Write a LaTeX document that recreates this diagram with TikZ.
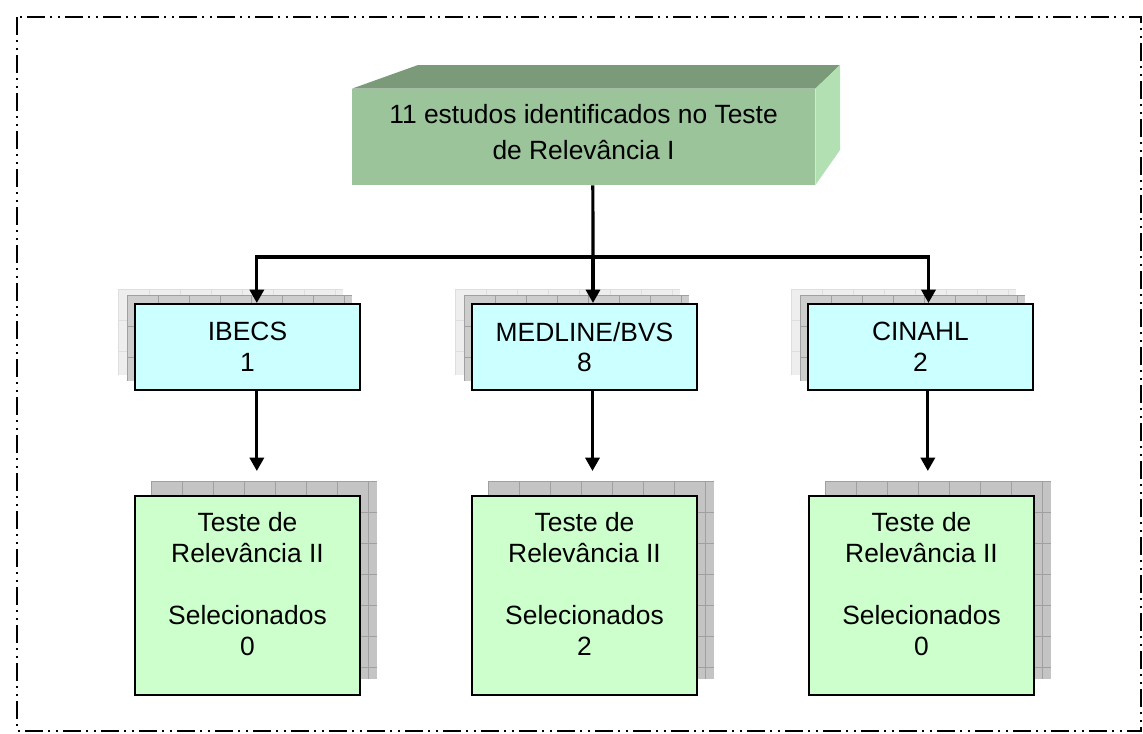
\documentclass[tikz,border=0pt]{standalone}
\usepackage{fontspec}
\setmainfont{Liberation Sans}
\usepackage{xcolor}
\definecolor{frontgreen}{RGB}{155,196,155}
\definecolor{topgreen}{RGB}{122,154,122}
\definecolor{sidegreen}{RGB}{179,224,179}
\definecolor{basecyan}{RGB}{204,255,255}
\definecolor{testgreen}{RGB}{204,255,204}
\definecolor{shadowlight}{RGB}{238,238,238}
\definecolor{linelight}{RGB}{222,222,222}
\definecolor{shadowdark}{RGB}{196,196,196}
\definecolor{linedark}{RGB}{160,160,160}
\usetikzlibrary{arrows.meta}
\usetikzlibrary{positioning}

\begin{document}
\begin{tikzpicture}[x=0.75pt,y=-0.75pt, every node/.style={font=\fontsize{19.8}{23}\selectfont, align=center, inner sep=0pt},
  frame/.style={line width=1.2pt, dash pattern=on 13.5pt off 4pt on 1.5pt off 4pt on 1.5pt off 4pt},
  link/.style={line width=2.4pt},
  arrow/.style={link, -{Triangle[length=10pt,width=10.5pt]}},
  basebox/.style={draw, line width=1.5pt, fill=basecyan, minimum width=168.75pt, minimum height=64.5pt},
  testbox/.style={draw, line width=1.5pt, fill=testgreen, minimum width=168.75pt, minimum height=149.25pt, text depth=17.5pt},
  gridlight/.style={draw=linelight, line width=0.5pt, step=23.25pt},
  griddark/.style={draw=linedark, line width=0.5pt, step=23.25pt}]

\useasboundingbox (0,0) rectangle (1143,733);

% Frame
\draw[frame] (17,17) rectangle (1141,731);

% Top block
  \node[fill=frontgreen, minimum width=347.25pt, minimum height=72pt, font=\fontsize{19.8}{27}\selectfont, text depth=7pt] (start) at (583.5,137) {11 estudos identificados no Teste\\de Relevância I};
  \fill[topgreen] (start.north west) -- (418,65) -- (840,65) -- (start.north east) -- cycle;
  \fill[sidegreen] (start.north east) -- (840,65) -- (840,150) -- (start.south east) -- cycle;

% IBECS
  \fill[shadowlight] (118,289) rectangle (343,375);
  \draw[gridlight, shift={(118,289)}] (0,0) grid (225,86);
  \fill[shadowdark!85] (127,295) rectangle (352,381);
  \draw[griddark, shift={(127,295)}] (0,0) grid (225,86);
  \node[basebox] (ibecs) at (247.5,347) {IBECS\\1};

% MEDLINE/BVS
  \fill[shadowlight] (455,289) rectangle (680,375);
  \draw[gridlight, shift={(455,289)}] (0,0) grid (225,86);
  \fill[shadowdark!85] (464,295) rectangle (689,381);
  \draw[griddark, shift={(464,295)}] (0,0) grid (225,86);
  \node[basebox] (medline) at (584.5,347) {MEDLINE/BVS\\8};

% CINAHL
  \fill[shadowlight] (791,289) rectangle (1016,375);
  \draw[gridlight, shift={(791,289)}] (0,0) grid (225,86);
  \fill[shadowdark!85] (800,295) rectangle (1025,381);
  \draw[griddark, shift={(800,295)}] (0,0) grid (225,86);
  \node[basebox] (cinahl) at (920.5,347) {CINAHL\\2};

% Teste II - IBECS
  \fill[shadowdark] (151,481) rectangle (377,679);
  \draw[griddark, shift={(151,481)}] (0,0) grid (226,198);
  \node[testbox] (testA) at (247.5,595.5) {Teste de\\Relevância II\\[24pt]Selecionados\\0};

% Teste II - MEDLINE/BVS
  \fill[shadowdark] (488,481) rectangle (714,679);
  \draw[griddark, shift={(488,481)}] (0,0) grid (226,198);
  \node[testbox] (testB) at (584.5,595.5) {Teste de\\Relevância II\\[24pt]Selecionados\\2};

% Teste II - CINAHL
  \fill[shadowdark] (825,481) rectangle (1051,679);
  \draw[griddark, shift={(825,481)}] (0,0) grid (226,198);
  \node[testbox] (testC) at (921.5,595.5) {Teste de\\Relevância II\\[24pt]Selecionados\\0};

% Arrows
\coordinate (split) at (593,257);
\draw[link] ([xshift=7pt]start.south) -- (split);
\draw[arrow] (split) -- (split |- medline.north);
\draw[arrow] (split) -| ([xshift=7pt]ibecs.north);
\draw[arrow] (split) -| ([xshift=6pt]cinahl.north);

\draw[arrow] ([xshift=7pt]ibecs.south) -- ([xshift=7pt,yshift=18pt]ibecs.south |- testA.north);
\draw[arrow] ([xshift=6pt]medline.south) -- ([xshift=6pt,yshift=18pt]medline.south |- testB.north);
\draw[arrow] ([xshift=5.5pt]cinahl.south) -- ([xshift=5.5pt,yshift=18pt]cinahl.south |- testC.north);

\end{tikzpicture}
\end{document}
